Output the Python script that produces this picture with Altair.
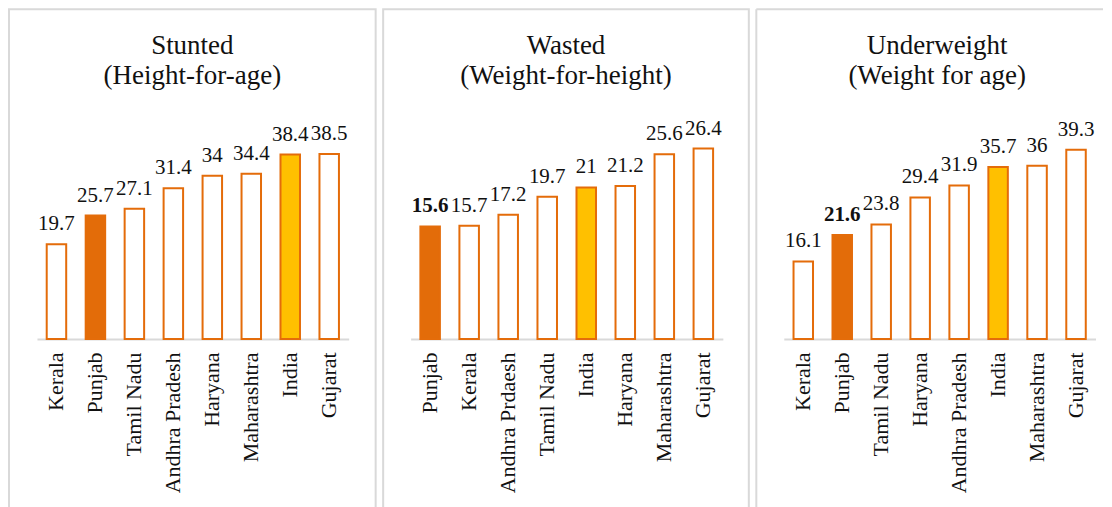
import altair as alt
import pandas as pd

FONT = "Liberation Serif"

# ---- data ----
p1_title = ["Stunted", "(Height-for-age)"]
p1_cats = ["Kerala", "Punjab", "Tamil Nadu", "Andhra Pradesh", "Haryana", "Maharashtra", "India", "Gujarat"]
p1_vals = [19.7, 25.7, 27.1, 31.4, 34, 34.4, 38.4, 38.5]

p2_title = ["Wasted", "(Weight-for-height)"]
p2_cats = ["Punjab", "Kerala", "Andhra Prdaesh", "Tamil Nadu", "India", "Haryana", "Maharashtra", "Gujarat"]
p2_vals = [15.6, 15.7, 17.2, 19.7, 21, 21.2, 25.6, 26.4]

p3_title = ["Underweight", "(Weight for age)"]
p3_cats = ["Kerala", "Punjab", "Tamil Nadu", "Haryana", "Andhra Pradesh", "India", "Maharashtra", "Gujarat"]
p3_vals = [16.1, 21.6, 23.8, 29.4, 31.9, 35.7, 36, 39.3]

H = 512
BASE = 330
BORDER = "#d9d9d9"


def panel(title, cats, vals, width, ymax, ytop, bold_punjab, xr, tcx, open_right=False):
    df = pd.DataFrame({"cat": cats, "val": vals})
    df["grp"] = ["Punjab" if c == "Punjab" else ("India" if c == "India" else "Other") for c in cats]
    xs = alt.X(
        "cat:N", sort=None,
        scale=alt.Scale(range=xr, paddingInner=0.5, paddingOuter=0.25),
        axis=alt.Axis(orient="bottom", offset=-(H - BASE), domainColor=BORDER, domainWidth=2,
                      ticks=False, labelAngle=270, labelAlign="right", labelBaseline="middle",
                      labelFont=FONT, labelFontSize=22, labelColor="#111", labelPadding=13,
                      labelOverlap=False, labelLimit=0, title=None, grid=False),
    )
    ys = alt.Y("val:Q", scale=alt.Scale(domain=[0, ymax], range=[BASE, ytop]), axis=None)
    base = alt.Chart(df)
    bars = base.mark_bar(stroke="#E46C0A", strokeWidth=2).encode(
        x=xs, y=ys,
        color=alt.Color("grp:N", scale=alt.Scale(domain=["Punjab", "India", "Other"],
                                                 range=["#E36C09", "#FFC000", "#FFFFFF"]), legend=None),
    )
    txt_kw = dict(font=FONT, fontSize=21, color="#111", dy=-14, baseline="alphabetic", align="center")
    if bold_punjab:
        labels_n = base.transform_filter(alt.datum.cat != "Punjab").mark_text(**txt_kw).encode(
            x=xs, y=ys, text=alt.Text("val:Q"))
        labels_b = base.transform_filter(alt.datum.cat == "Punjab").mark_text(fontWeight="bold", **txt_kw).encode(
            x=xs, y=ys, text=alt.Text("val:Q"))
        labels = labels_n + labels_b
    else:
        labels = base.mark_text(**txt_kw).encode(x=xs, y=ys, text=alt.Text("val:Q"))
    t1 = alt.Chart(pd.DataFrame({"t": [title[0]]})).mark_text(
        font=FONT, fontSize=27, color="#111", align="center", baseline="alphabetic").encode(
        text="t:N", x=alt.value(tcx), y=alt.value(44.5))
    t2 = alt.Chart(pd.DataFrame({"t": [title[1]]})).mark_text(
        font=FONT, fontSize=27, color="#111", align="center", baseline="alphabetic").encode(
        text="t:N", x=alt.value(tcx), y=alt.value(75))
    layers = [bars, labels, t1, t2]
    props = dict(width=width, height=H)
    if open_right:
        bdf = alt.Chart(pd.DataFrame({"b": [0]}))
        top = bdf.mark_rule(color=BORDER, strokeWidth=2).encode(
            x=alt.value(0), x2=alt.value(width), y=alt.value(0))
        left = bdf.mark_rule(color=BORDER, strokeWidth=2).encode(
            x=alt.value(0), y=alt.value(0), y2=alt.value(H))
        layers += [top, left]
        props["view"] = alt.ViewBackground(strokeOpacity=0)
    return alt.layer(*layers).properties(**props)


c1 = panel(p1_title, p1_cats, p1_vals, 367, 40, BASE - 40 * 4.805, False, [28, 340], 183.5)
c2 = panel(p2_title, p2_cats, p2_vals, 366, 30, BASE - 30 * 7.22, True, [27.5, 340], 183)
c3 = panel(p3_title, p3_cats, p3_vals, 347, 40, BASE - 40 * 4.817, True, [27.5, 339.5], 181,
           open_right=True)

chart = alt.hconcat(c1, c2, c3, spacing=5.5).properties(padding=0).configure_view(
    stroke=BORDER, strokeWidth=2)

chart.save("out.html", embed_options={"renderer": "svg", "actions": False})
